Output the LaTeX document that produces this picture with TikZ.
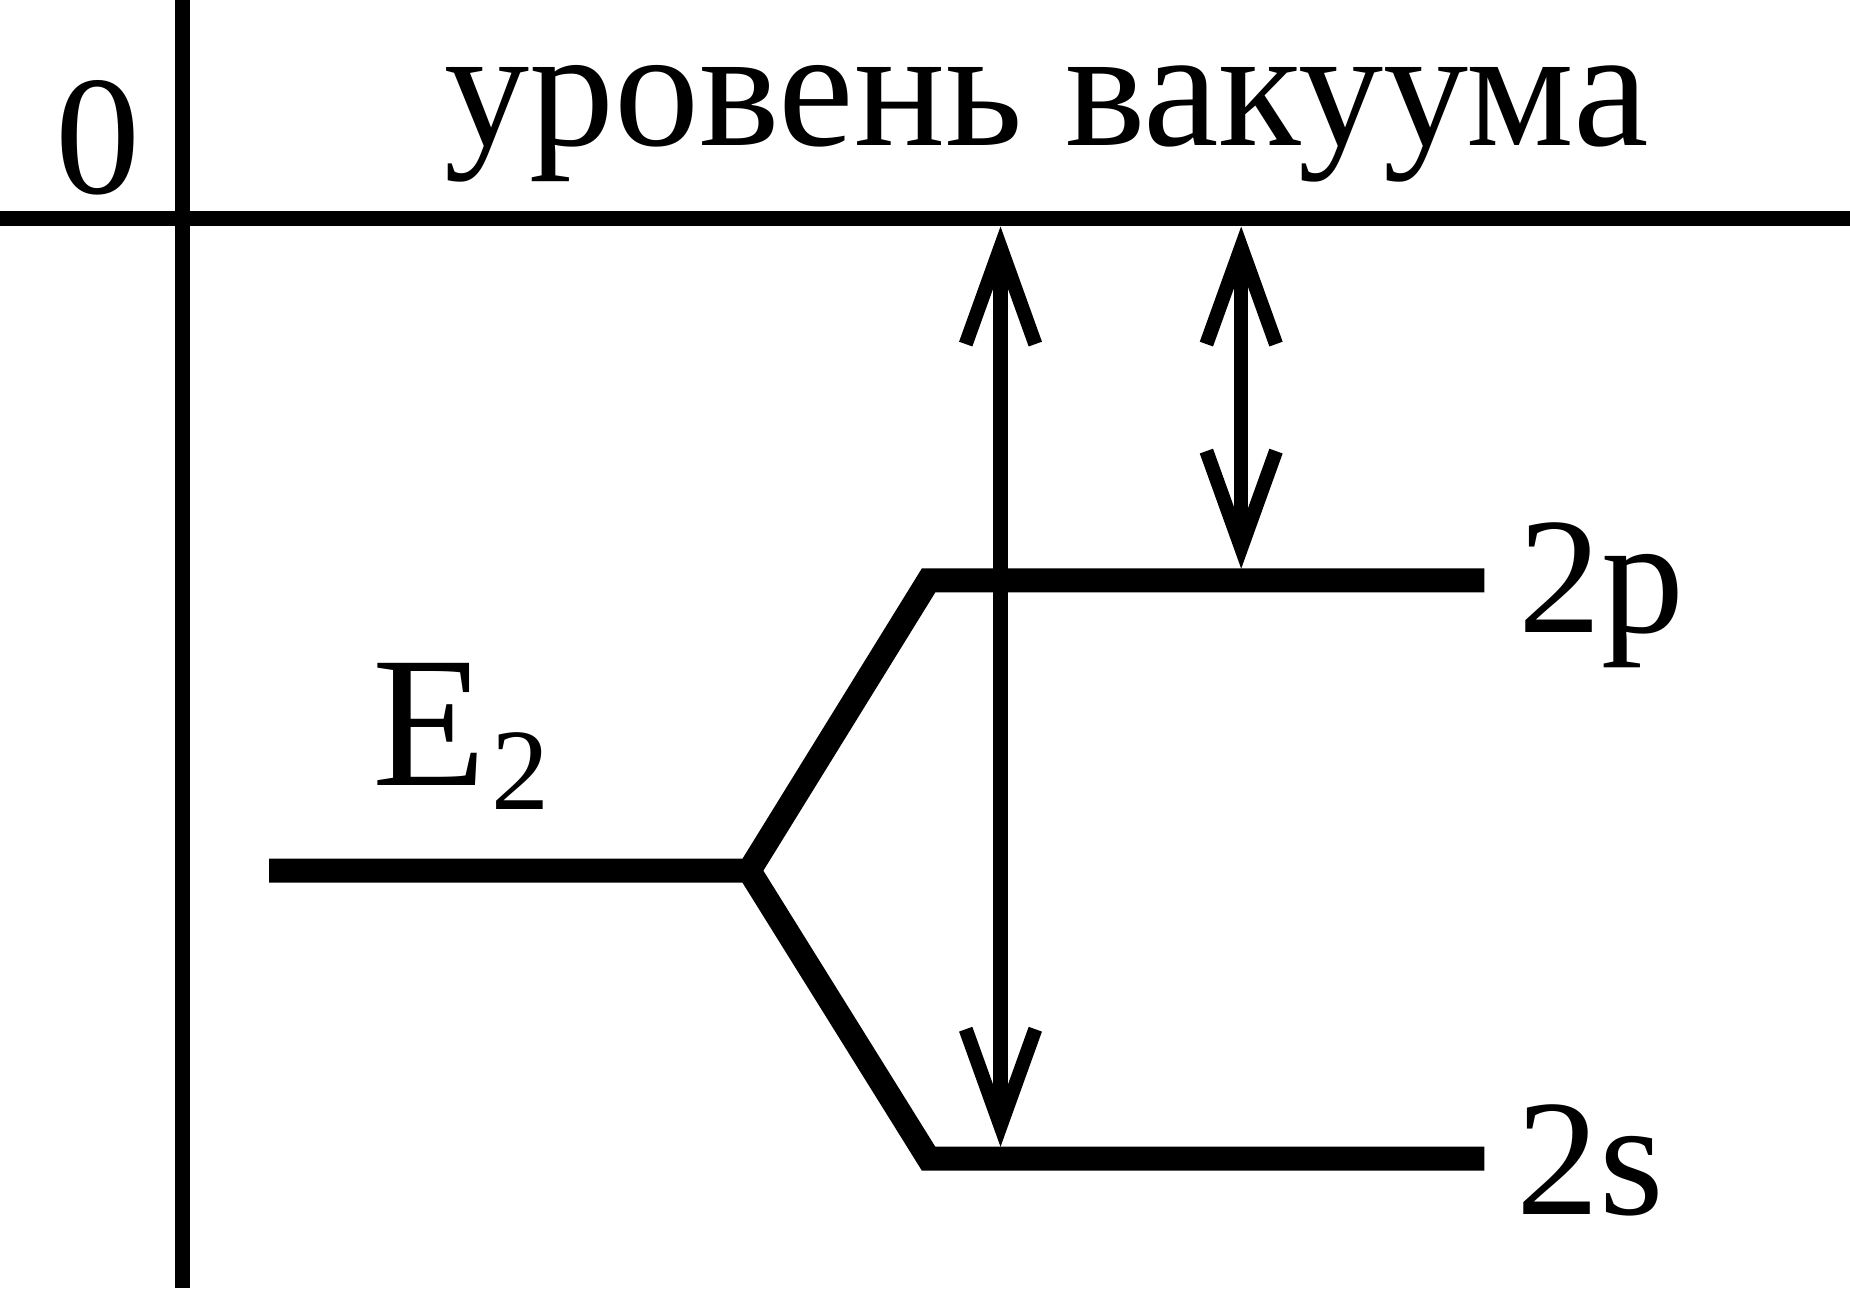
\documentclass[tikz,border=0pt]{standalone}
\usepackage{fontspec}
\setmainfont{Liberation Serif}
\usetikzlibrary{positioning, arrows.meta}
\tikzset{
    axisline/.style={line width=3.6pt},
    levelline/.style={line width=5.8pt, line join=miter},
    gaparrow/.style={line width=3.4pt, {Straight Barb[length=8.2mm, width=5.9mm]}-{Straight Barb[length=8.2mm, width=5.9mm]}},
    biglabel/.style={inner sep=0pt, anchor=base, font=\fontsize{41}{44}\selectfont},
    levellabel/.style={inner sep=0pt, anchor=base west, font=\fontsize{40}{43}\selectfont}
}

\begin{document}
\begin{tikzpicture}[x=0.1mm, y=-0.1mm]
    \useasboundingbox (0,0) rectangle (1568,1094);
    \coordinate (axistop) at (155,0);
    \coordinate (axisbot) at (155,1092);
    \coordinate (vacleft) at (0,185);
    \coordinate (vacright) at (1568,185);
    \draw[axisline] (axistop) -- (axisbot);
    \draw[axisline] (vacleft) -- (vacright);
    \node[biglabel] (zero) at (83,164) {0};
    \node[biglabel] (vacuum) at (887,123) {уровень вакуума};
    \coordinate (etwo) at (228,738);
    \coordinate (split) at (635,738);
    \coordinate (pkink) at (787,492);
    \coordinate (pend) at (1258,492);
    \coordinate (skink) at (787,982);
    \coordinate (send) at (1258,982);
    \draw[levelline] (etwo) -- (split) -- (pkink) -- (pend);
    \draw[levelline] (split) -- (skink) -- (send);
    \node[levellabel, font=\fontsize{45}{48}\selectfont] (elabel) at (315,666)
        {E\kern0.04cm\raisebox{-0.2cm}{\fontsize{28}{30}\selectfont 2}};
    \node[levellabel] (plabel) at (1286,536) {2p};
    \node[levellabel] (slabel) at (1285,1029) {2s};
    \coordinate (vacone) at (848,192);
    \coordinate (sone) at (848,972);
    \coordinate (vactwo) at (1052,192);
    \coordinate (ptwo) at (1052,482);
    \draw[gaparrow] (vacone) -- (sone);
    \draw[gaparrow] (vactwo) -- (ptwo);
\end{tikzpicture}
\end{document}
